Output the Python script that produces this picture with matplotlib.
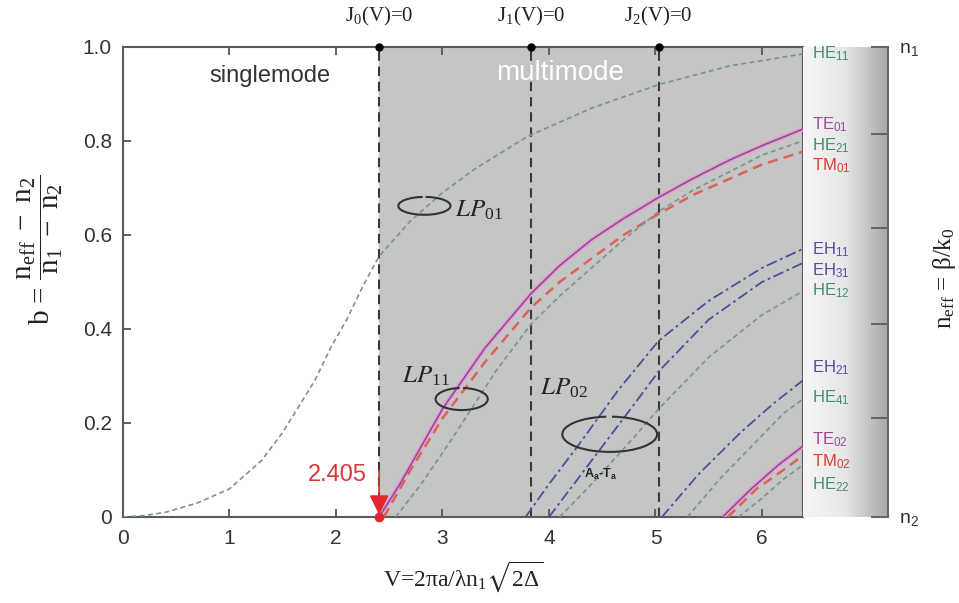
import numpy as np
import matplotlib.pyplot as plt
from matplotlib.patches import Arc
from matplotlib.colors import LinearSegmentedColormap

plt.rcParams['font.family'] = ['Liberation Sans', 'DejaVu Sans']
plt.rcParams['mathtext.default'] = 'regular'
plt.rcParams['mathtext.fontset'] = 'stix'

# cut-off lines as drawn in the figure
cutoffs = [2.405, 3.83, 5.03]
cutoff_labels = [r'J$_0$(V)=0', r'J$_1$(V)=0', r'J$_2$(V)=0']

# b(V) curves
he11_v = [0, 0.2, 0.4, 0.55, 0.7, 0.85, 1.0, 1.15, 1.3, 1.5, 1.65, 1.8, 1.95, 2.1, 2.25,
          2.405, 2.7, 3.0, 3.3, 3.8, 4.4, 5.03, 5.7, 6.38]
he11_b = [0, 0.003, 0.01, 0.02, 0.03, 0.045, 0.06, 0.09, 0.12, 0.18, 0.235, 0.29, 0.36,
          0.42, 0.49, 0.555, 0.63, 0.69, 0.74, 0.81, 0.87, 0.92, 0.96, 0.985]

te01_v = [2.405, 2.6, 2.8, 3.0, 3.4, 3.83, 4.1, 4.4, 4.7, 5.03, 5.35, 5.7, 6.0, 6.38]
te01_b = [0, 0.07, 0.15, 0.23, 0.36, 0.475, 0.535, 0.59, 0.635, 0.68, 0.72, 0.76, 0.79, 0.825]

tm01_v = [2.45, 2.7, 3.0, 3.4, 3.83, 4.1, 4.4, 4.7, 5.03, 5.35, 5.7, 6.0, 6.38]
tm01_b = [0, 0.10, 0.21, 0.33, 0.445, 0.50, 0.55, 0.60, 0.645, 0.685, 0.72, 0.75, 0.777]

he21_v = [2.56, 2.8, 3.1, 3.5, 3.83, 4.1, 4.4, 4.7, 5.03, 5.35, 5.7, 6.0, 6.38]
he21_b = [0, 0.07, 0.17, 0.31, 0.41, 0.47, 0.53, 0.59, 0.65, 0.695, 0.735, 0.77, 0.80]

eh11_v = [3.78, 4.0, 4.3, 4.65, 5.03, 5.5, 6.0, 6.38]
eh11_b = [0, 0.07, 0.16, 0.27, 0.375, 0.46, 0.53, 0.57]

eh31_v = [4.0, 4.2, 4.5, 4.8, 5.03, 5.5, 6.0, 6.38]
eh31_b = [0, 0.06, 0.15, 0.24, 0.31, 0.42, 0.50, 0.54]

he12_v = [4.1, 4.4, 4.8, 5.03, 5.5, 6.0, 6.38]
he12_b = [0, 0.07, 0.17, 0.23, 0.34, 0.43, 0.48]

eh21_v = [5.06, 5.4, 5.8, 6.1, 6.38]
eh21_b = [0, 0.09, 0.18, 0.24, 0.29]

he41_v = [5.3, 5.6, 5.9, 6.2, 6.38]
he41_b = [0, 0.08, 0.15, 0.22, 0.25]

te02_v = [5.63, 5.9, 6.15, 6.38]
te02_b = [0, 0.06, 0.11, 0.15]

tm02_v = [5.68, 5.95, 6.2, 6.38]
tm02_b = [0, 0.06, 0.10, 0.13]

he22_v = [5.78, 6.0, 6.2, 6.38]
he22_b = [0, 0.04, 0.08, 0.11]

mode_names = ['HE', 'TE', 'HE', 'TM', 'EH', 'EH', 'HE', 'EH', 'HE', 'TE', 'TM', 'HE']
mode_idx = ['11', '01', '21', '01', '11', '31', '12', '21', '41', '02', '02', '22']

C_HE = '#3f8f72'
C_TE = '#a0489a'
C_TM = '#d9403a'
C_EH = '#5a4a9e'
mode_colors = {'HE': C_HE, 'TE': C_TE, 'TM': C_TM, 'EH': C_EH}

fig = plt.figure(figsize=(9.59, 6.03), dpi=100)
ax = fig.add_axes([123 / 959, 1 - 517 / 603, 680 / 959, 470 / 603])
ax2 = fig.add_axes([803 / 959, 1 - 517 / 603, 85 / 959, 470 / 603])

ax.set_xlim(0, 6.385)
ax.set_ylim(0, 1)
ax.axvspan(cutoffs[0], 6.385, color='#c4c6c5', zorder=0)

# cut-off lines with dots on top
for xc, lab in zip(cutoffs, cutoff_labels):
    ax.plot([xc, xc], [0, 1], color='#3a3a3a', lw=1.5, dashes=(4.5, 2.8), zorder=2)
    ax.plot(xc, 1, 'o', color='black', ms=5, clip_on=False, zorder=5)
    ax.text(xc, 1.04, lab, ha='center', va='bottom', fontsize=15,
            family='Liberation Serif', color='#222')

he_kw = dict(color='#7d938a', lw=1.2, dashes=(3, 2))
eh_kw = dict(color='#4d4d9c', lw=1.3, dashes=(6, 2, 1.5, 2))
tm_kw = dict(color='#e0605a', lw=1.8, dashes=(4, 2.5))

ax.plot(he11_v, he11_b, **he_kw, zorder=3)
ax.plot(te01_v, te01_b, color='#e8a0cc', lw=3.5, zorder=3, solid_capstyle='butt')
ax.plot(te01_v, te01_b, color='#8a4e9e', lw=1.2, zorder=4)
ax.plot(tm01_v, tm01_b, **tm_kw, zorder=3)
ax.plot(he21_v, he21_b, **he_kw, zorder=3)
ax.plot(eh11_v, eh11_b, **eh_kw, zorder=3)
ax.plot(eh31_v, eh31_b, **eh_kw, zorder=3)
ax.plot(he12_v, he12_b, **he_kw, zorder=3)
ax.plot(eh21_v, eh21_b, **eh_kw, zorder=3)
ax.plot(he41_v, he41_b, **he_kw, zorder=3)
ax.plot(te02_v, te02_b, color='#e8a0cc', lw=3.5, zorder=3, solid_capstyle='butt')
ax.plot(te02_v, te02_b, color='#8a4e9e', lw=1.2, zorder=4)
ax.plot(tm02_v, tm02_b, **tm_kw, zorder=3)
ax.plot(he22_v, he22_b, **he_kw, zorder=3)

# 2.405 marker
ax.annotate('', xy=(2.405, 0.005), xytext=(2.405, 0.1),
            arrowprops=dict(arrowstyle='-|>', color='#e3262b', lw=1.2,
                            mutation_scale=30, shrinkA=0, shrinkB=0), zorder=6)
ax.plot(2.405, 0, 'o', color='#e3262b', ms=6, clip_on=False, zorder=6)
ax.text(2.29, 0.09, '2.405', color='#d8373a', fontsize=17, ha='right', va='center')

ax.text(1.38, 0.938, 'singlemode', fontsize=17, ha='center', va='center', color='#333')
ax.text(4.1, 0.945, 'multimode', fontsize=20, ha='center', va='center', color='white')

# LP mode group loops
for (cx, cy, w, h) in [(2.83, 0.662, 0.49, 0.038), (3.18, 0.251, 0.49, 0.047),
                       (4.57, 0.176, 0.89, 0.075)]:
    ax.add_patch(Arc((cx, cy), w, h, theta1=130, theta2=420, color='#333', lw=1.5, zorder=5))
lp_kw = dict(fontsize=18, family='Liberation Serif', va='center', color='#222')
ax.text(3.12, 0.653, r'$\mathit{LP}_{01}$', **lp_kw)
ax.text(2.62, 0.30, r'$\mathit{LP}_{11}$', **lp_kw)
ax.text(3.92, 0.274, r'$\mathit{LP}_{02}$', **lp_kw)
ax.text(4.48, 0.09, r'A$_a$-T$_a$', fontsize=9, fontweight='bold', ha='center', va='center', color='#222')

ax.set_xticks(range(7))
ax.set_yticks([0, 0.2, 0.4, 0.6, 0.8, 1.0])
ax.set_yticklabels(['0', '0.2', '0.4', '0.6', '0.8', '1.0'])
ax.tick_params(axis='both', direction='in', length=6, width=1.3, color='#555',
               labelsize=15, labelcolor='#333', top=True, right=False)
ax.tick_params(axis='x', pad=9)
ax.tick_params(axis='y', pad=8)
for s in ax.spines.values():
    s.set_color('#5a5a5a')
    s.set_linewidth(1.5)

ax.set_xlabel(r'V=2$\pi$a/$\lambda$n$_1$$\sqrt{2\Delta}$', family='Liberation Serif',
              fontsize=17, color='#222', labelpad=8)
fig.text(40 / 959, 1 - 250 / 603, r'b = $\dfrac{n_{eff}\ -\ n_2}{n_1\ -\ n_2}$',
         rotation=90, ha='center', va='center', fontsize=21,
         family='Liberation Serif', color='#222')

# right strip with the effective-index scale
cmap = LinearSegmentedColormap.from_list('strip', ['#f6f6f6', '#e6e6e6', '#a8a8a8'])
grad = np.linspace(0, 1, 256).reshape(1, -1)
ax2.imshow(grad, extent=[0, 1, 0, 1], aspect='auto', cmap=cmap, zorder=0)
ax2.set_xlim(0, 1)
ax2.set_ylim(0, 1)
for side in ['left', 'top', 'bottom']:
    ax2.spines[side].set_visible(False)
ax2.spines['right'].set_color('#666')
ax2.spines['right'].set_linewidth(1.5)
ax2.set_xticks([])
ax2.yaxis.tick_right()
ax2.set_yticks([0, 0.21, 0.41, 0.615, 0.815, 1.0])
ax2.set_yticklabels(['n$_2$', '', '', '', '', 'n$_1$'])
ax2.tick_params(axis='y', direction='in', length=12, width=1.5, color='#666',
                labelsize=14, labelcolor='#333', pad=8)

label_y = [0.985, 0.835, 0.79, 0.748, 0.568, 0.525, 0.482, 0.317, 0.253, 0.164, 0.118, 0.068]
for name, idx, yy in zip(mode_names, mode_idx, label_y):
    ax2.text(0.1, yy, name + '$_{' + idx + '}$', color=mode_colors[name],
             fontsize=12, va='center', ha='left')

fig.text(945 / 959, 1 - 278 / 603, r'n$_{eff}$ = $\beta$/k$_0$', rotation=90,
         ha='center', va='center', fontsize=18, family='Liberation Serif', color='#222')

fig.savefig('out.png', dpi=100)
